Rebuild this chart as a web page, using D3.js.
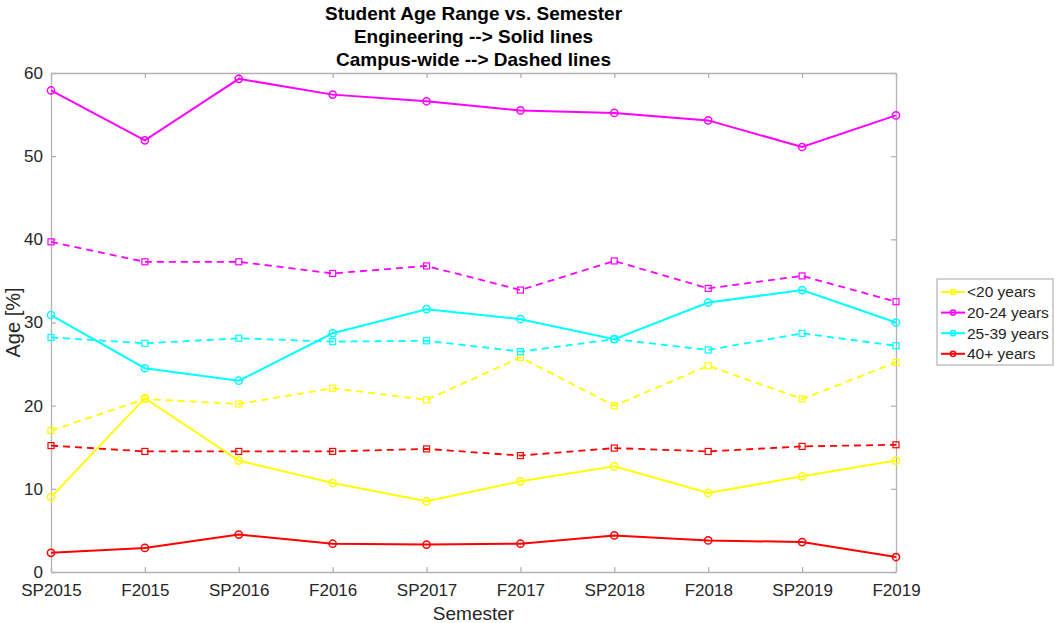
<!DOCTYPE html>
<html>
<head>
<meta charset="utf-8">
<script src="https://cdn.jsdelivr.net/npm/d3@7"></script>
<style>
  body { margin: 0; background: #fff; }
  text { font-family: "Liberation Sans", Arial, sans-serif; }
</style>
</head>
<body>
<svg id="chart" width="1055" height="623"></svg>
<script>
const semesters = ['SP2015', 'F2015', 'SP2016', 'F2016', 'SP2017', 'F2017', 'SP2018', 'F2018', 'SP2019', 'F2019']
const groups = ['<20 years', '20-24 years', '25-39 years', '40+ years']
const colors = ['#ffff00', '#ff00ff', '#00ffff', '#ff0000']

// Engineering (solid)
const engUnder20 = [9.0, 20.9, 13.4, 10.7, 8.5, 10.9, 12.7, 9.5, 11.5, 13.4]
const eng20to24 = [57.9, 51.9, 59.3, 57.4, 56.6, 55.5, 55.2, 54.3, 51.1, 54.9]
const eng25to39 = [30.9, 24.5, 23.0, 28.7, 31.6, 30.4, 28.0, 32.4, 33.9, 30.0]
const eng40plus = [2.3, 2.9, 4.5, 3.4, 3.3, 3.4, 4.4, 3.8, 3.6, 1.8]

// Campus-wide (dashed)
const campusUnder20 = [17.0, 20.8, 20.2, 22.1, 20.7, 25.8, 20.0, 24.8, 20.8, 25.2]
const campus20to24 = [39.7, 37.3, 37.3, 35.9, 36.8, 33.9, 37.4, 34.1, 35.6, 32.5]
const campus25to39 = [28.2, 27.5, 28.1, 27.7, 27.8, 26.5, 28.0, 26.7, 28.7, 27.2]
const campus40plus = [15.2, 14.5, 14.5, 14.5, 14.8, 14.0, 14.9, 14.5, 15.1, 15.3]

const yTicks = [0, 10, 20, 30, 40, 50, 60]

const engSeries = [engUnder20, eng20to24, eng25to39, eng40plus]
const campusSeries = [campusUnder20, campus20to24, campus25to39, campus40plus]

const svg = d3.select('#chart')
const margin = { left: 51, right: 159, top: 73, bottom: 51 }
const width = 1055 - margin.left - margin.right
const height = 623 - margin.top - margin.bottom

const x = d3.scalePoint().domain(semesters).range([0, width])
const y = d3.scaleLinear().domain([0, 60]).range([height, 0])

const g = svg.append('g').attr('transform', `translate(${margin.left},${margin.top})`)

const axisColor = '#b3b3b3'
const textColor = '#262626'

// axes with inward ticks
const xAxis = g.append('g').attr('transform', `translate(0,${height})`)
  .call(d3.axisBottom(x).tickSizeInner(-5).tickSizeOuter(0).tickPadding(12))
const xTop = g.append('g')
  .call(d3.axisTop(x).tickSizeInner(-5).tickSizeOuter(0).tickFormat(''))
const yAxis = g.append('g')
  .call(d3.axisLeft(y).tickValues(yTicks).tickSizeInner(-5).tickSizeOuter(0).tickPadding(8))
const yRight = g.append('g').attr('transform', `translate(${width},0)`)
  .call(d3.axisRight(y).tickValues(yTicks).tickSizeInner(-5).tickSizeOuter(0).tickFormat(''))

;[xAxis, xTop, yAxis, yRight].forEach(a => {
  a.selectAll('.domain').attr('stroke', axisColor).attr('stroke-width', 1.3)
  a.selectAll('.tick line').attr('stroke', axisColor).attr('stroke-width', 1.3)
  a.selectAll('.tick text').attr('fill', textColor).style('font-size', '17px')
})

const line = d3.line()
  .x((d, i) => x(semesters[i]))
  .y(d => y(d))

// campus-wide dashed lines with square markers
campusSeries.forEach((s, k) => {
  g.append('path').datum(s)
    .attr('d', line)
    .attr('fill', 'none')
    .attr('stroke', colors[k])
    .attr('stroke-width', 1.8)
    .attr('stroke-dasharray', '7,5')
  g.selectAll(null).data(s).enter().append('rect')
    .attr('x', (d, i) => x(semesters[i]) - 3)
    .attr('y', d => y(d) - 3)
    .attr('width', 6)
    .attr('height', 6)
    .attr('fill', 'none')
    .attr('stroke', colors[k])
    .attr('stroke-width', 1.2)
})

// engineering solid lines with circle markers
engSeries.forEach((s, k) => {
  g.append('path').datum(s)
    .attr('d', line)
    .attr('fill', 'none')
    .attr('stroke', colors[k])
    .attr('stroke-width', 2)
  g.selectAll(null).data(s).enter().append('circle')
    .attr('cx', (d, i) => x(semesters[i]))
    .attr('cy', d => y(d))
    .attr('r', 3.6)
    .attr('fill', 'none')
    .attr('stroke', colors[k])
    .attr('stroke-width', 1.5)
})

// titles
const titleLines = ['Student Age Range vs. Semester', 'Engineering --> Solid lines', 'Campus-wide --> Dashed lines']
svg.append('g').selectAll('text').data(titleLines).enter().append('text')
  .attr('x', margin.left + width / 2)
  .attr('y', (d, i) => 19.5 + i * 23)
  .attr('text-anchor', 'middle')
  .style('font-size', '19px')
  .style('font-weight', 'bold')
  .attr('fill', '#000')
  .text(d => d)

svg.append('text')
  .attr('x', margin.left + width / 2)
  .attr('y', 620)
  .attr('text-anchor', 'middle')
  .style('font-size', '19px')
  .attr('fill', textColor)
  .text('Semester')

svg.append('text')
  .attr('transform', `translate(20,${margin.top + height / 2}) rotate(-90)`)
  .attr('text-anchor', 'middle')
  .style('font-size', '20px')
  .attr('fill', textColor)
  .text('Age [%]')

// legend
const legend = svg.append('g').attr('transform', 'translate(937,279)')
legend.append('rect')
  .attr('width', 116).attr('height', 86)
  .attr('fill', '#fff')
  .attr('stroke', axisColor)
  .attr('stroke-width', 1.2)
const items = legend.selectAll('.item').data(groups).enter().append('g')
  .attr('transform', (d, i) => `translate(0,${13 + i * 20.6})`)
items.append('line')
  .attr('x1', 4).attr('x2', 28)
  .attr('stroke', (d, i) => colors[i]).attr('stroke-width', 2)
items.append('circle')
  .attr('cx', 16).attr('r', 2.6)
  .attr('fill', 'none')
  .attr('stroke', (d, i) => colors[i]).attr('stroke-width', 1.5)
items.append('text')
  .attr('x', 30).attr('dy', '0.35em')
  .style('font-size', '15.5px')
  .attr('fill', textColor)
  .text(d => d)
</script>
</body>
</html>
